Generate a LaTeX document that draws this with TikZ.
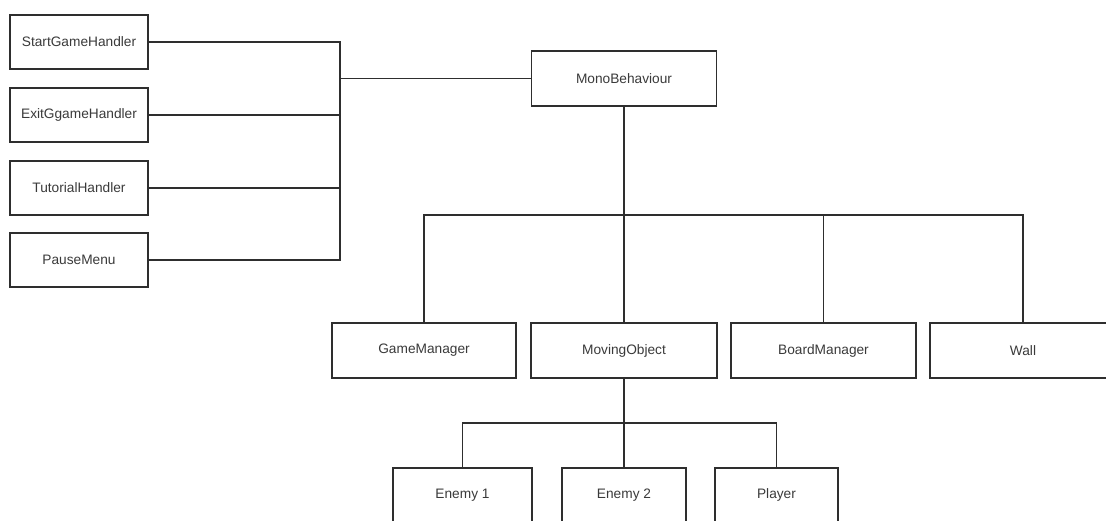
\documentclass[tikz,border=0pt]{standalone}
\usepackage{fontspec}
\setmainfont{Liberation Sans}
\usetikzlibrary{positioning, calc}
\definecolor{umlline}{HTML}{2E2E2E}
\definecolor{umltext}{HTML}{3A3A3A}

\begin{document}
\begin{tikzpicture}[x=1pt, y=-1pt,
  classbox/.style={draw=umlline, line width=1.3pt, fill=white, inner sep=0pt,
    font=\fontsize{13.7}{16}\selectfont, text=umltext},
  link/.style={draw=umlline, line width=1.3pt}]
  \useasboundingbox (0,0) rectangle (1106,520);
  % menu handlers on the left
  \foreach \name/\txt/\yy in {start/StartGameHandler/42, exit/ExitGgameHandler/115,
    tutorial/TutorialHandler/188, pause/PauseMenu/260}
  {
    \node[classbox, minimum width=138pt, minimum height=54pt] (\name) at (79,\yy) {\txt};
  }
  % base class
  \node[classbox, minimum width=185pt, minimum height=55pt] (mono) at (624,78.5) {MonoBehaviour};
  % second row
  \node[classbox, minimum width=184pt, minimum height=55pt] (game) at (424,350.5) {GameManager};
  \node[classbox, minimum width=186pt, minimum height=55pt] (moving) at (624,350.5) {MovingObject};
  \node[classbox, minimum width=185pt, minimum height=55pt] (board) at (823.5,350.5) {BoardManager};
  \node[classbox, minimum width=186pt, minimum height=55pt] (wall) at (1023,350.5) {Wall};
  % third row
  \node[classbox, minimum width=139pt, minimum height=54pt] (enemyA) at (462.5,495) {Enemy 1};
  \node[classbox, minimum width=124pt, minimum height=54pt] (enemyB) at (624,495) {Enemy 2};
  \node[classbox, minimum width=123pt, minimum height=54pt] (player) at (776.5,495) {Player};
  % connectors
  \coordinate (leftBus) at (340,78.5);
  \coordinate (topBus) at (624,215);
  \coordinate (lowBus) at (624,423);
  \draw[link] (start.east) -| (leftBus);
  \draw[link] (pause.east) -| (leftBus);
  \draw[link] (exit.east) -- (exit.east -| leftBus);
  \draw[link] (tutorial.east) -- (tutorial.east -| leftBus);
  \draw[link] (leftBus) -- (mono.west);
  \draw[link] (mono.south) -- (moving.north);
  \draw[link] (game.north) |- (topBus) -| (wall.north);
  \draw[link] (board.north) -- (board.north |- topBus);
  \draw[link] (moving.south) -- (enemyB.north);
  \draw[link] (enemyA.north) |- (lowBus) -| (player.north);
\end{tikzpicture}
\end{document}
